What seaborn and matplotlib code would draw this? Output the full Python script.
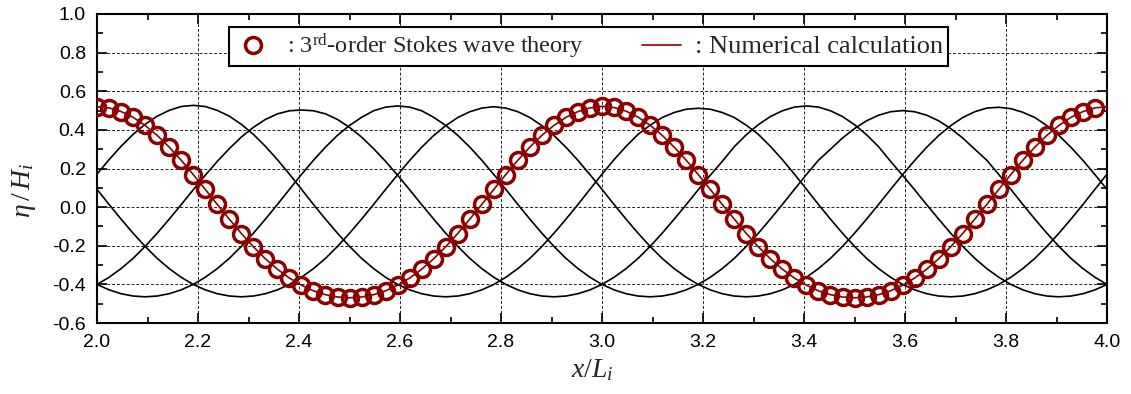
import numpy as np
import pandas as pd
import matplotlib
matplotlib.use("Agg")
import matplotlib.pyplot as plt
from matplotlib.lines import Line2D
from matplotlib.ticker import MultipleLocator
import seaborn as sns

# ---- data -------------------------------------------------------------
# sampling positions: 42 samples per wavelength, x/L from 2.0 to 4.0
x_step = 1.0 / 42.0
n_line = 85
n_theory = 84

# 3rd-order Stokes wave theory (open circles)
eta_theory = [
    0.520, 0.514, 0.495, 0.465, 0.423, 0.372, 0.311, 0.243, 0.169, 0.092, 0.014,
    -0.063, -0.137, -0.206, -0.268, -0.322, -0.368, -0.405, -0.434, -0.454, -0.466,
    -0.470, -0.466, -0.454, -0.434, -0.405, -0.368, -0.322, -0.268, -0.206, -0.137,
    -0.063, 0.014, 0.092, 0.169, 0.243, 0.311, 0.372, 0.423, 0.465, 0.495, 0.514,
    0.522, 0.516, 0.497, 0.466, 0.424, 0.372, 0.311, 0.243, 0.169, 0.092, 0.014,
    -0.063, -0.137, -0.206, -0.268, -0.322, -0.368, -0.405, -0.434, -0.454, -0.466,
    -0.470, -0.466, -0.454, -0.434, -0.405, -0.368, -0.322, -0.268, -0.206, -0.137,
    -0.063, 0.014, 0.092, 0.169, 0.243, 0.311, 0.372, 0.423, 0.465, 0.495, 0.514,
]

# numerical calculation, same phase as the theory
eta_num_0 = [
    0.520, 0.514, 0.495, 0.465, 0.423, 0.372, 0.311, 0.243, 0.169, 0.092, 0.014,
    -0.062, -0.136, -0.205, -0.267, -0.321, -0.367, -0.404, -0.433, -0.453, -0.465,
    -0.469, -0.465, -0.453, -0.433, -0.404, -0.367, -0.321, -0.267, -0.205, -0.136,
    -0.062, 0.014, 0.092, 0.169, 0.243, 0.311, 0.372, 0.423, 0.465, 0.495, 0.514,
    0.522, 0.516, 0.497, 0.466, 0.424, 0.372, 0.311, 0.243, 0.169, 0.092, 0.014,
    -0.062, -0.136, -0.205, -0.267, -0.321, -0.367, -0.404, -0.433, -0.453, -0.465,
    -0.469, -0.465, -0.453, -0.433, -0.404, -0.367, -0.321, -0.267, -0.205, -0.136,
    -0.062, 0.014, 0.092, 0.169, 0.243, 0.311, 0.372, 0.423, 0.465, 0.495, 0.514,
    0.520,
]

# numerical calculation at four other instants
eta_num_1 = [
    0.171, 0.246, 0.315, 0.377, 0.429, 0.471, 0.501, 0.521,
    0.527, 0.521, 0.501, 0.471, 0.429, 0.377, 0.315, 0.246, 0.171, 0.093, 0.014,
    -0.062, -0.135, -0.203, -0.265, -0.318, -0.363, -0.400, -0.428, -0.448, -0.460,
    -0.464, -0.460, -0.448, -0.428, -0.400, -0.363, -0.318, -0.265, -0.203, -0.135,
    -0.062, 0.014, 0.093, 0.171, 0.246, 0.315, 0.377, 0.424, 0.464, 0.490, 0.507,
    0.512, 0.507, 0.490, 0.464, 0.424, 0.377, 0.315, 0.246, 0.171, 0.093, 0.014,
    -0.062, -0.135, -0.203, -0.265, -0.318, -0.363, -0.400, -0.428, -0.448, -0.460,
    -0.464, -0.460, -0.448, -0.428, -0.400, -0.363, -0.318, -0.265, -0.203, -0.135,
    -0.062, 0.014, 0.093, 0.171,
]

eta_num_2 = [
    -0.400, -0.363, -0.318, -0.265, -0.203, -0.135, -0.062, 0.013, 0.090, 0.165,
    0.237, 0.303, 0.363, 0.413, 0.454, 0.483, 0.499,
    0.503, 0.499, 0.483, 0.454, 0.413, 0.363, 0.303, 0.237, 0.165, 0.090, 0.013,
    -0.062, -0.135, -0.203, -0.265, -0.318, -0.363, -0.400, -0.428, -0.448, -0.460,
    -0.464, -0.460, -0.448, -0.428, -0.400, -0.363, -0.318, -0.265, -0.203, -0.135,
    -0.062, 0.013, 0.090, 0.165, 0.237, 0.313, 0.375, 0.427, 0.469, 0.499, 0.518,
    0.524, 0.518, 0.499, 0.469, 0.427, 0.375, 0.313, 0.237, 0.165, 0.090, 0.013,
    -0.062, -0.135, -0.203, -0.265, -0.318, -0.363, -0.400, -0.428, -0.448, -0.460,
    -0.464, -0.460, -0.448, -0.428, -0.400,
]

eta_num_3 = [
    -0.400, -0.428, -0.448, -0.460, -0.464, -0.460, -0.448, -0.428, -0.400, -0.363,
    -0.318, -0.265, -0.203, -0.135, -0.062, 0.014, 0.092, 0.169, 0.243, 0.311,
    0.372, 0.423, 0.465, 0.499, 0.518,
    0.524, 0.518, 0.499, 0.465, 0.423, 0.372, 0.311, 0.243, 0.169, 0.092, 0.014,
    -0.062, -0.135, -0.203, -0.265, -0.318, -0.363, -0.400, -0.428, -0.448, -0.460,
    -0.464, -0.460, -0.448, -0.428, -0.400, -0.363, -0.318, -0.265, -0.203, -0.135,
    -0.062, 0.014, 0.092, 0.169, 0.243, 0.300, 0.358, 0.407, 0.447, 0.476, 0.494,
    0.500, 0.494, 0.476, 0.447, 0.407, 0.358, 0.300, 0.243, 0.169, 0.092, 0.014,
    -0.062, -0.135, -0.203, -0.265, -0.318, -0.363, -0.400,
]

eta_num_4 = [
    0.092, 0.014, -0.062, -0.135, -0.203, -0.265, -0.318, -0.363, -0.400, -0.428,
    -0.448, -0.460, -0.464, -0.460, -0.448, -0.428, -0.400, -0.363, -0.318, -0.265,
    -0.203, -0.135, -0.062, 0.014, 0.092, 0.168, 0.242, 0.310, 0.371, 0.422, 0.464,
    0.494, 0.513,
    0.520, 0.513, 0.494, 0.464, 0.422, 0.371, 0.310, 0.242, 0.168, 0.092, 0.014,
    -0.062, -0.135, -0.203, -0.265, -0.318, -0.363, -0.400, -0.428, -0.448, -0.460,
    -0.464, -0.460, -0.448, -0.428, -0.400, -0.363, -0.318, -0.265, -0.203, -0.135,
    -0.062, 0.014, 0.092, 0.168, 0.242, 0.310, 0.371, 0.422, 0.464, 0.494, 0.513,
    0.517, 0.510, 0.491, 0.464, 0.422, 0.371, 0.310, 0.242, 0.168, 0.092,
]

x_line = 2.0 + x_step * np.arange(n_line)
x_theory = 2.0 + x_step * np.arange(n_theory)

x_ticks = [2.0, 2.2, 2.4, 2.6, 2.8, 3.0, 3.2, 3.4, 3.6, 3.8, 4.0]
y_ticks = [-0.6, -0.4, -0.2, 0.0, 0.2, 0.4, 0.6, 0.8, 1.0]

legend_theory = r": 3$^{\mathrm{rd}}$-order Stokes wave theory"
legend_num = ": Numerical calculation"

# ---- style ------------------------------------------------------------
sns.set_theme(style="ticks")
plt.rcParams["font.family"] = ["Liberation Sans", "DejaVu Sans"]
plt.rcParams["mathtext.fontset"] = "custom"
plt.rcParams["mathtext.rm"] = "Liberation Serif"
plt.rcParams["mathtext.it"] = "Liberation Serif:italic"
plt.rcParams["mathtext.bf"] = "Liberation Serif:bold"

DARK_RED = "#8b0000"
MS = 11.5
MEW = 2.5

fig = plt.figure(figsize=(11.31, 3.94), dpi=100)
ax = fig.add_axes([0.0858, 0.180, 0.8930, 0.7845])

lines_df = pd.DataFrame({
    "x": np.concatenate([x_line] * 4),
    "eta": np.concatenate([eta_num_1, eta_num_2, eta_num_3, eta_num_4]),
    "run": np.repeat(["t1", "t2", "t3", "t4"], n_line),
})
sns.lineplot(data=lines_df, x="x", y="eta", units="run", estimator=None,
             color="black", linewidth=1.2, ax=ax, zorder=2, sort=False)

sns.lineplot(x=x_line, y=eta_num_0, color=DARK_RED, linewidth=1.2,
             ax=ax, zorder=3, sort=False)

sns.lineplot(x=x_theory, y=eta_theory, marker="o", linestyle="",
             markersize=MS, markerfacecolor="none",
             markeredgecolor=DARK_RED, markeredgewidth=MEW,
             color=DARK_RED, ax=ax, zorder=4, sort=False)

# ---- axes -------------------------------------------------------------
ax.set_xlim(2.0, 4.0)
ax.set_ylim(-0.6, 1.0)
ax.set_xticks(x_ticks)
ax.set_yticks(y_ticks)
ax.set_xticklabels([f"{v:.1f}" for v in x_ticks])
ax.set_yticklabels([f"{v:.1f}" for v in y_ticks])
ax.xaxis.set_minor_locator(MultipleLocator(0.1))
ax.yaxis.set_minor_locator(MultipleLocator(0.1))
ax.tick_params(which="both", direction="in", top=True, right=True,
               color="black", width=1.2, labelsize=14, labelcolor="black")
ax.tick_params(which="major", length=7, pad=8)
ax.tick_params(which="minor", length=4)
for s in ax.spines.values():
    s.set_linewidth(1.5)
    s.set_color("black")

ax.grid(True, which="major", linestyle=(0, (3, 2)), color="#222222",
        linewidth=0.7)
ax.set_axisbelow(True)

ax.set_xlabel(r"$x/L_{i}$", fontsize=20, labelpad=0)
ax.set_ylabel(r"$\eta\,/\,H_{i}$", fontsize=20, labelpad=4)
ax.xaxis.set_label_coords(0.49, -0.11)
ax.yaxis.set_label_coords(-0.058, 0.43)

handles = [
    Line2D([], [], marker="o", linestyle="", markersize=MS,
           markerfacecolor="none", markeredgecolor=DARK_RED,
           markeredgewidth=MEW),
    Line2D([], [], color=DARK_RED, linewidth=1.2),
]
leg = ax.legend(handles, [legend_theory, legend_num], ncol=2,
                loc="lower left", mode="expand",
                bbox_to_anchor=(0.1307, 0.8317, 0.712, 0.123),
                borderaxespad=0, frameon=True, fancybox=False,
                prop={"family": "Liberation Serif", "size": 17.5},
                handlelength=1.6, handletextpad=0.6, columnspacing=2.0,
                borderpad=0.2)
leg.get_texts()[1].set_fontsize(19)
leg.get_frame().set_edgecolor("black")
leg.get_frame().set_linewidth(1.5)
leg.get_frame().set_alpha(1)

fig.savefig("out.png", dpi=100)
